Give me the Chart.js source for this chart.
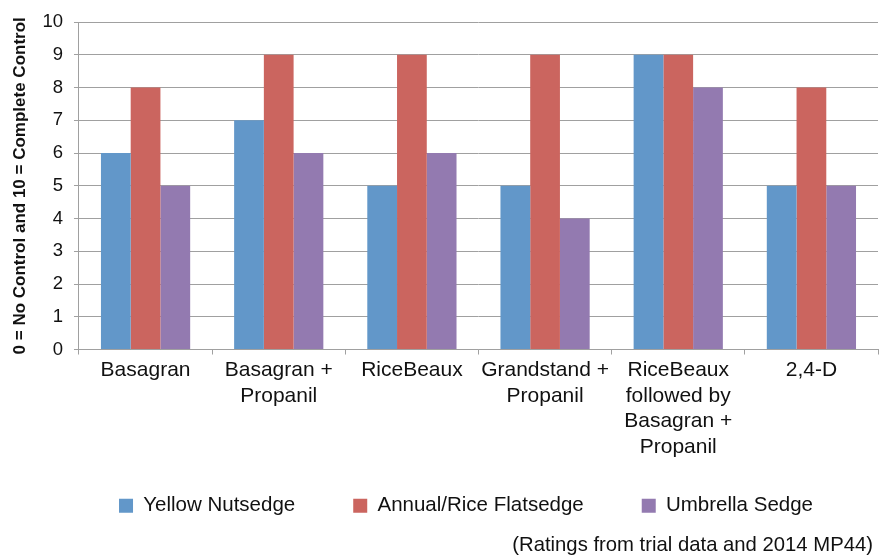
<!DOCTYPE html>
<html>
<head>
<meta charset="utf-8">
<script src="https://cdn.jsdelivr.net/npm/chart.js@4.4.1/dist/chart.umd.min.js"></script>
<style>
html,body{margin:0;padding:0;background:#fff;}
#wrap{width:890px;height:556px;position:relative;}
</style>
</head>
<body>
<div id="wrap"><canvas id="c" width="890" height="556"></canvas></div>
<script>
const categories = [
  "Basagran",
  ["Basagran +", "Propanil"],
  "RiceBeaux",
  ["Grandstand +", "Propanil"],
  ["RiceBeaux", "followed by", "Basagran +", "Propanil"],
  "2,4-D"
];
const seriesNames = ["Yellow Nutsedge", "Annual/Rice Flatsedge", "Umbrella Sedge"];
const yellowNutsedge = [6, 7, 5, 5, 9, 5];
const annualRiceFlatsedge = [8, 9, 9, 9, 9, 8];
const umbrellaSedge = [5, 6, 6, 4, 8, 5];
const yTicks = [0, 1, 2, 3, 4, 5, 6, 7, 8, 9, 10];
const yTitle = "0 = No Control and 10 = Complete Control";
const footnote = "(Ratings from trial data and 2014 MP44)";

const colors = ["#6297C9", "#CB655F", "#937AB0"];
const FONT = "'Liberation Sans', Arial, Helvetica, sans-serif";

const legendShift = {
  id: 'legendShift',
  afterLayout(chart) {
    const lg = chart.legend;
    if (!lg) return;
    const dy = -25, dx = 25;
    lg.top += dy; lg.bottom += dy;
    lg.left += dx; lg.right += dx;
  }
};
const footer = {
  id: 'footer',
  afterDraw(chart) {
    const ctx = chart.ctx;
    ctx.save();
    ctx.font = "20.3px " + FONT;
    ctx.fillStyle = "#111";
    ctx.textAlign = "right";
    ctx.textBaseline = "middle";
    ctx.fillText(footnote, chart.width - 17, chart.height - 11);
    ctx.restore();
  }
};

new Chart(document.getElementById('c'), {
  type: 'bar',
  data: {
    labels: categories,
    datasets: [
      { label: seriesNames[0], data: yellowNutsedge, backgroundColor: colors[0], borderWidth: 0 },
      { label: seriesNames[1], data: annualRiceFlatsedge, backgroundColor: colors[1], borderWidth: 0 },
      { label: seriesNames[2], data: umbrellaSedge, backgroundColor: colors[2], borderWidth: 0 }
    ]
  },
  options: {
    responsive: false,
    animation: false,
    devicePixelRatio: 1,
    layout: { padding: { left: 4, right: 12, top: 9, bottom: 5 } },
    datasets: { bar: { categoryPercentage: 0.67, barPercentage: 1.0 } },
    plugins: {
      legend: {
        position: 'bottom',
        align: 'center',
        labels: {
          boxWidth: 14, boxHeight: 14, padding: 58,
          color: '#111',
          font: { family: FONT, size: 20.5 }
        }
      },
      tooltip: { enabled: false }
    },
    scales: {
      x: {
        grid: { display: true, drawOnChartArea: false, drawTicks: true, tickLength: 5, color: '#a0a0a0', offset: true },
        border: { display: true, color: '#a0a0a0', width: 1 },
        ticks: {
          color: '#111', padding: 3, maxRotation: 0, autoSkip: false,
          font: { family: FONT, size: 21, lineHeight: 1.214 }
        }
      },
      y: {
        min: 0, max: 10,
        afterBuildTicks(scale) { scale.ticks = yTicks.map(v => ({ value: v })); },
        grid: { color: '#a0a0a0', lineWidth: 1, tickLength: 5, drawTicks: true },
        border: { display: true, color: '#a0a0a0', width: 1 },
        ticks: {
          color: '#111', padding: 11,
          font: { family: FONT, size: 18.5 }
        },
        title: {
          display: true, text: yTitle, color: '#111',
          padding: { top: 6, bottom: 1 },
          font: { family: FONT, size: 17, weight: 'bold' }
        }
      }
    }
  },
  plugins: [legendShift, footer]
});
</script>
</body>
</html>
